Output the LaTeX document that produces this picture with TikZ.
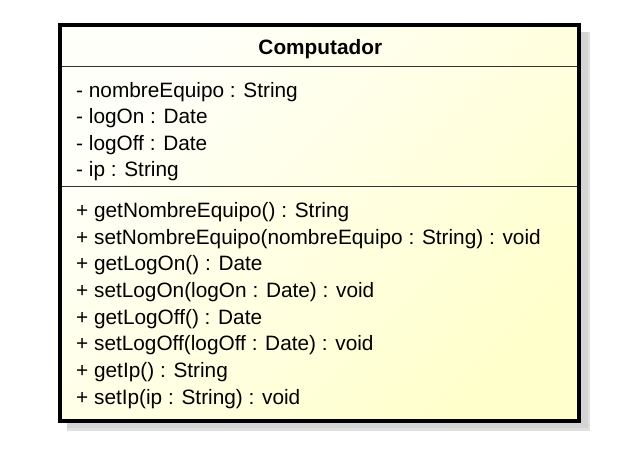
\documentclass[tikz,border=0pt]{standalone}
\usepackage{fontspec}
\setmainfont{Liberation Sans}
\definecolor{shadowout}{RGB}{224,224,224}
\definecolor{shadowin}{RGB}{212,212,212}
\definecolor{fillA}{RGB}{255,255,250}
\definecolor{fillB}{RGB}{255,255,204}
\definecolor{sepcol}{RGB}{50,50,50}
\tikzset{
  member/.style={anchor=base west, inner sep=0pt, font=\fontsize{20.8}{25}\selectfont},
  classtitle/.style={anchor=base, inner sep=0pt, font=\fontsize{20.8}{25}\selectfont\bfseries},
  sepline/.style={draw=sepcol, line width=1.5pt},
}
\begin{document}
\begin{tikzpicture}[x=1pt,y=-1pt]
\useasboundingbox (0,0) rectangle (644,462);
% shadow
\fill[shadowout] (67.3,32) rectangle (590,430.7);
\fill[shadowin] (67.3,32) rectangle (587.5,428.2);
% class box
\path[top color=fillA, bottom color=fillB, shading angle=45] (60.3,25.3) rectangle (578.7,420.7);
\draw[sepline] (60.3,66.3) -- (578.7,66.3);
\draw[sepline] (60.3,186.7) -- (578.7,186.7);
\draw[line width=4pt] (60.3,25.3) rectangle (578.7,420.7);
% title
\node[classtitle] (title) at (320.3,55) {Computador};
% attributes
\node[member] (a1) at (76,97.3) {- nombreEquipo : String};
\node[member] (a2) at (76,123.9) {- logOn : Date};
\node[member] (a3) at (76,150.4) {- logOff : Date};
\node[member] (a4) at (76,176.9) {- ip : String};
% methods
\node[member] (m1) at (76,217.3) {+ getNombreEquipo() : String};
\node[member] (m2) at (76,244.0) {+ setNombreEquipo(nombreEquipo : String) : void};
\node[member] (m3) at (76,270.7) {+ getLogOn() : Date};
\node[member] (m4) at (76,297.3) {+ setLogOn(logOn : Date) : void};
\node[member] (m5) at (76,324.0) {+ getLogOff() : Date};
\node[member] (m6) at (76,350.7) {+ setLogOff(logOff : Date) : void};
\node[member] (m7) at (76,377.3) {+ getIp() : String};
\node[member] (m8) at (76,404.0) {+ setIp(ip : String) : void};
\end{tikzpicture}
\end{document}
